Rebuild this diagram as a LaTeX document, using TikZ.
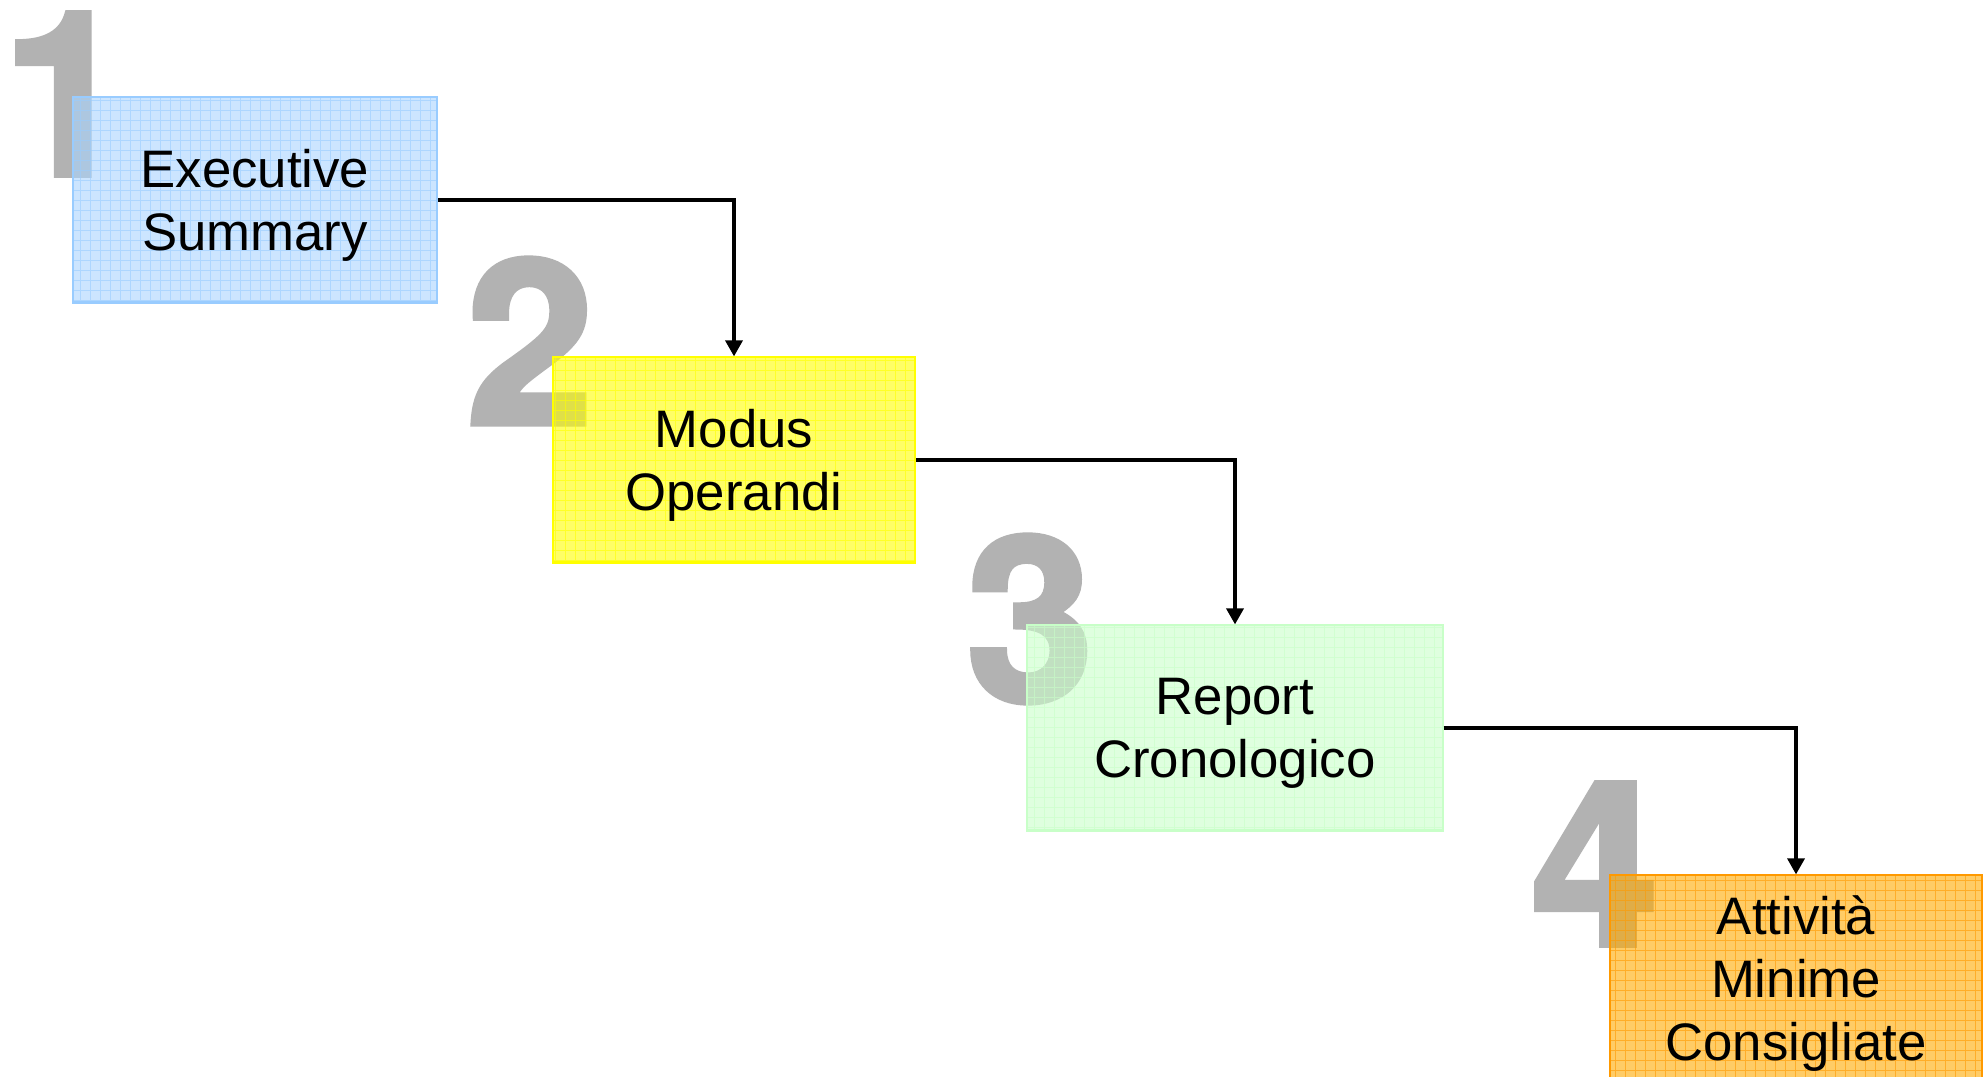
\documentclass[tikz,border=0pt]{standalone}
\usepackage{fontspec}
\setmainfont{Liberation Sans}
\newfontfamily\numfont{TeX Gyre Heros}[BoldFeatures={FakeBold=2.5}]
\usepackage{xcolor}
\usepackage{tikz}
\usetikzlibrary{positioning,calc,arrows.meta}

\definecolor{numgray}{RGB}{178,178,178}
\definecolor{fillblue}{RGB}{170,213,255}
\definecolor{lineblue}{RGB}{153,204,255}
\definecolor{fillyellow}{RGB}{255,255,0}
\definecolor{lineyellow}{RGB}{255,255,0}
\definecolor{fillgreen}{RGB}{203,255,203}
\definecolor{linegreen}{RGB}{200,255,200}
\definecolor{fillorange}{RGB}{255,170,0}
\definecolor{lineorange}{RGB}{255,153,0}

\tikzset{
    stepnum/.style={text=numgray, inner sep=0pt, font=\numfont\fontsize{65pt}{65pt}\selectfont\bfseries},
    phase/.style 2 args={draw=#2, line width=0.6pt, fill=#1, fill opacity=0.6, text opacity=1,
        minimum height=2.05cm, align=center, inner sep=0pt, text depth=0pt,
        font=\fontsize{15pt}{18pt}\selectfont,
        path picture={\draw[#2, line width=0.35pt, opacity=0.6]
            (path picture bounding box.south west) grid[step=1mm] (path picture bounding box.north east);}},
    flow/.style={-{Triangle[length=0.16cm, width=0.17cm]}, line width=1pt}
}

\begin{document}
\begin{tikzpicture}[x=0.01cm, y=-0.01cm]
        \clip (0,0) rectangle (1988,1077);
        \fill[white] (0,0) rectangle (1988,1077);

        % big step numbers behind the boxes
        \foreach \n/\x/\y in {1/66/94, 2/530/341, 3/1030/619, 4/1595/864} {
            \node[stepnum] (num\n) at (\x,\y) {\n};
        }

        \node[phase={fillblue}{lineblue}, minimum width=3.64cm] (exec) at (255,200) {Executive\\Summary};
        \node[phase={fillyellow}{lineyellow}, minimum width=3.62cm] (modus) at (734,460) {Modus\\Operandi};
        \node[phase={fillgreen}{linegreen}, minimum width=4.15cm] (report) at (1235,728) {Report\\Cronologico};
        \node[phase={fillorange}{lineorange}, minimum width=3.72cm] (attiv) at (1796,978) {Attività\\Minime\\Consigliate};

        \foreach \a/\b in {exec/modus, modus/report, report/attiv} {
            \draw[flow] (\a.east) -| (\b.north);
        }
    \end{tikzpicture}
\end{document}
